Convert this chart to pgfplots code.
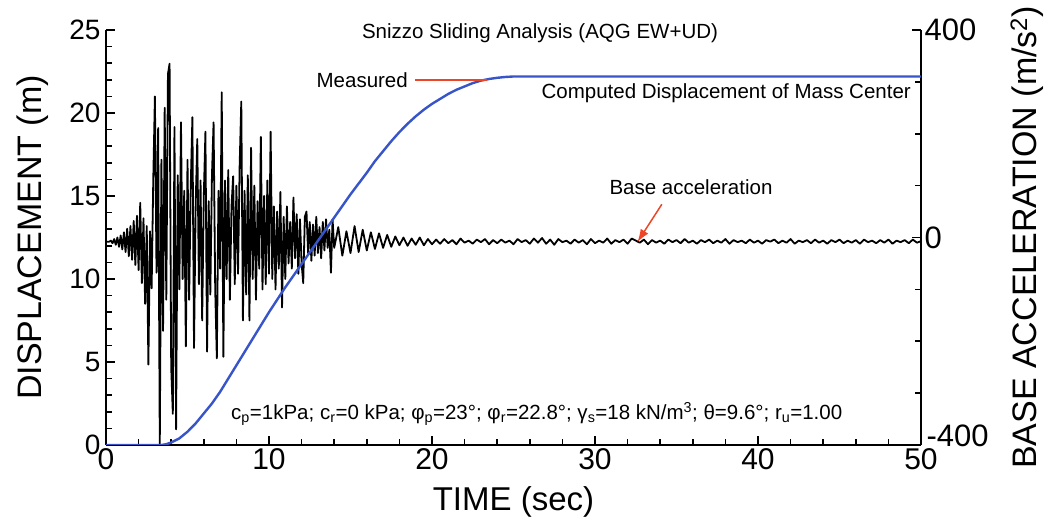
\documentclass[border=0pt]{standalone}
\usepackage{pgfplots}
\pgfplotsset{compat=1.18}
\usepackage{pgfplotstable}
\usepackage{fontspec}
\setmainfont{Liberation Sans}
\usetikzlibrary{arrows.meta}
\definecolor{dispblue}{RGB}{55,85,200}
\definecolor{annred}{RGB}{235,70,40}

\pgfplotstableread{
t d
0 0
3.4 0
3.7 0.05
4 0.15
4.5 0.4
5 0.8
5.5 1.3
6 1.9
6.5 2.5
7 3.2
7.5 4.0
8 4.8
9 6.4
10 8.0
11 9.5
12 10.9
13 12.3
14 13.7
15 15.1
15.5 15.75
16 16.4
16.5 17.1
17 17.7
17.5 18.3
18 18.85
18.5 19.35
19 19.8
19.5 20.2
20 20.55
20.5 20.85
21 21.15
21.5 21.4
22 21.6
22.5 21.8
23 21.95
23.5 22.05
24 22.12
24.5 22.17
25 22.2
25.5 22.2
50 22.2
}\disptable

\pgfplotstableread{
t a
0.0 -8
0.1 -8
0.2 -8
0.3 -6
0.4 -11
0.5 -3
0.6 -14
0.7 0
0.8 -18
0.9 4
1.0 -23
1.1 10
1.2 -28
1.3 17
1.4 -36
1.5 22
1.6 -43
1.7 32
1.8 -53
1.9 42
2.0 -63
2.1 67
2.2 -88
2.3 37
2.4 -128
2.5 22
2.6 -245
2.7 12
2.8 -98
2.9 112
3.0 272
3.1 -68
3.2 211
3.3 -400
3.4 150
3.5 -180
3.6 250
3.7 -120
3.8 315
3.9 335
4.0 -250
4.1 -340
4.2 213
4.3 -370
4.4 120
4.5 -100
4.6 222
4.7 -80
4.8 90
4.9 -210
5.0 150
5.1 -120
5.2 100
5.3 232
5.4 -213
5.5 60
5.6 190
5.7 -90
5.8 110
5.9 -160
6.0 80
6.1 204
6.2 -220
6.3 70
6.4 -110
6.5 120
6.6 222
6.7 -100
6.8 -233
6.9 90
7.0 -60
7.1 280
7.2 -230
7.3 110
7.4 -80
7.5 130
7.6 -120
7.7 60
7.8 118
7.9 -90
8.0 100
8.1 -70
8.2 140
8.3 262
8.4 -160
8.5 90
8.6 -110
8.7 120
8.8 -160
8.9 173
9.0 -80
9.1 100
9.2 -120
9.3 70
9.4 -60
9.5 194
9.6 -100
9.7 80
9.8 -90
9.9 110
10.0 -70
10.1 204
10.2 -80
10.3 60
10.4 -100
10.5 50
10.6 -60
10.7 88
10.8 -135
10.9 40
11.0 -80
11.1 60
11.2 -50
11.3 30
11.4 -60
11.5 77
11.6 -40
11.7 45
11.8 -70
11.9 35
12.0 -50
12.1 -88
12.2 40
12.3 50
12.4 -30
12.5 30
12.6 -45
12.7 25
12.8 -35
12.9 40
13.0 -30
13.1 20
13.2 -40
13.3 30
13.4 -25
13.5 35
13.6 -20
13.7 15
13.8 -68
13.9 35
14.0 -20
14.25 20
14.5 -35
14.75 12
15.0 -30
15.25 22
15.5 -28
15.75 15
16.0 -25
16.25 10
16.5 -22
16.75 8
17.0 -20
17.25 5
17.5 -18
17.75 2
18.0 -15
18.25 0
18.5 -16
18.75 -2
19.0 -14
19.25 0
19.5 -15
19.75 -3
20.0 -13
20.25 -4
20.5 -12
20.75 -3
21.0 -11
21.25 -5
21.5 -13
21.75 -2
22.0 -10
22.25 -6
22.5 -12
22.75 -4
23.0 -9
23.25 -3
23.5 -13
23.75 -5
24.0 -11
24.25 -4
24.5 -10
24.75 -6
25.0 -13
25.25 -3
25.5 -9
25.75 -5
26.0 -12
26.25 -2
26.5 -10
26.75 -1
27.0 -12
27.25 -4
27.5 -14
27.75 -3
28.0 -9
28.25 -6
28.5 -12
28.75 -4
29.0 -10
29.25 -5
29.5 -13
29.75 -3
30.0 -11
30.25 -6
30.5 -10
30.75 -2
31.0 -12
31.25 -5
31.5 -9
31.75 -4
32.0 -12
32.25 -2
32.5 -6
32.75 -10
33.0 -4
33.25 -13
33.5 -5
33.75 -10
34.0 -6
34.25 -12
34.5 -4
34.75 -9
35.0 -5
35.25 -11
35.5 -3
35.75 -10
36.0 -6
36.25 -12
36.5 -5
36.75 -9
37.0 -4
37.25 -11
37.5 -6
37.75 -10
38.0 -3
38.25 -12
38.5 -5
38.75 -9
39.0 -6
39.25 -11
39.5 -4
39.75 -10
40.0 -6
40.25 -12
40.5 -5
40.75 -8
41.0 -4
41.25 -11
41.5 -6
41.75 -10
42.0 -3
42.25 -12
42.5 -6
42.75 -9
43.0 -5
43.25 -11
43.5 -4
43.75 -10
44.0 -6
44.25 -12
44.5 -5
44.75 -9
45.0 -4
45.25 -11
45.5 -6
45.75 -10
46.0 -5
46.25 -12
46.5 -4
46.75 -9
47.0 -6
47.25 -11
47.5 -5
47.75 -10
48.0 -4
48.25 -12
48.5 -6
48.75 -9
49.0 -5
49.25 -11
49.5 -4
49.75 -10
50.0 -7
}\acctable

\begin{document}
\begin{tikzpicture}[x=1pt,y=1pt]
\useasboundingbox (0,0) rectangle (1050,530);
% ---------- acceleration (right axis) ----------
\begin{axis}[
  at={(106pt,85pt)}, anchor=south west,
  scale only axis, width=815pt, height=415pt,
  xmin=0, xmax=50, ymin=-400, ymax=400,
  axis x line=none, axis y line*=right,
  ytick={0,400}, yticklabels={0,\raisebox{-5pt}{400}},
  extra y ticks={-400}, extra y tick labels={-400},
  extra y tick style={yticklabel style={yshift=9pt, xshift=2pt}},
  minor ytick={-300,-200,-100,100,200,300},
  tick align=inside,
  major tick length=9pt, minor tick length=6pt,
  every tick/.style={black, line width=1.5pt},
  axis line style={line width=1.8pt},
  yticklabel style={font=\fontsize{31}{31}\selectfont},
  ylabel={BASE ACCELERATION (m/s\textsuperscript{2})},
  ylabel style={font=\fontsize{34}{34}\selectfont, at={(axis description cs:1.13,0.5)}, anchor=center},
]
\addplot[black, line width=1.8pt, line join=round] table[x=t, y=a] {\acctable};
\draw[annred, line width=1.5pt, -{Latex[length=13pt,width=9pt]}] (axis cs:34.1,64) -- (axis cs:32.6,-9);
\end{axis}
% ---------- displacement (left axis) ----------
\begin{axis}[
  at={(106pt,85pt)}, anchor=south west,
  scale only axis, width=815pt, height=415pt,
  xmin=0, xmax=50, ymin=0, ymax=25,
  axis x line*=bottom, axis y line*=left,
  xtick={0,10,20,30,40,50}, xticklabels={0,10,20,30,40,50},
  ytick={0,5,10,15,20,25}, yticklabels={0,5,10,15,20,25},
  minor x tick num=4, minor y tick num=4,
  tick align=inside,
  major tick length=9pt, minor tick length=6pt,
  every tick/.style={black, line width=1.5pt},
  axis line style={line width=1.8pt},
  xticklabel style={font=\fontsize{30}{30}\selectfont},
  yticklabel style={font=\fontsize{28}{28}\selectfont, xshift=-2pt},
  xlabel={TIME (sec)},
  xlabel style={font=\fontsize{33}{33}\selectfont, at={(axis description cs:0.5,-0.137)}, anchor=center},
  ylabel={DISPLACEMENT (m)},
  ylabel style={font=\fontsize{34}{34}\selectfont, at={(axis description cs:-0.09,0.5)}, anchor=center},
]
\addplot[dispblue, line width=2.4pt, line join=round] table[x=t, y=d] {\disptable};
\addplot[annred, line width=2pt] coordinates {(18.96,21.99) (23.37,21.99)};
\end{axis}
% ---------- annotations ----------
\begin{scope}[every node/.style={font=\fontsize{20.5}{22}\selectfont, inner sep=0pt}]
\node[anchor=center] at (540,497) {Snizzo Sliding Analysis (AQG EW+UD)};
\node[anchor=east] at (408,450) {Measured};
\node[anchor=east] at (911,437) {Computed Displacement of Mass Center};
\node[anchor=center] at (691,343) {Base acceleration};
\node[anchor=west] at (231,116) {c\textsubscript{p}=1kPa; c\textsubscript{r}=0 kPa; φ\textsubscript{p}=23°; φ\textsubscript{r}=22.8°; γ\textsubscript{s}=18 kN/m\textsuperscript{3}; θ=9.6°; r\textsubscript{u}=1.00};
\end{scope}
\end{tikzpicture}
\end{document}
